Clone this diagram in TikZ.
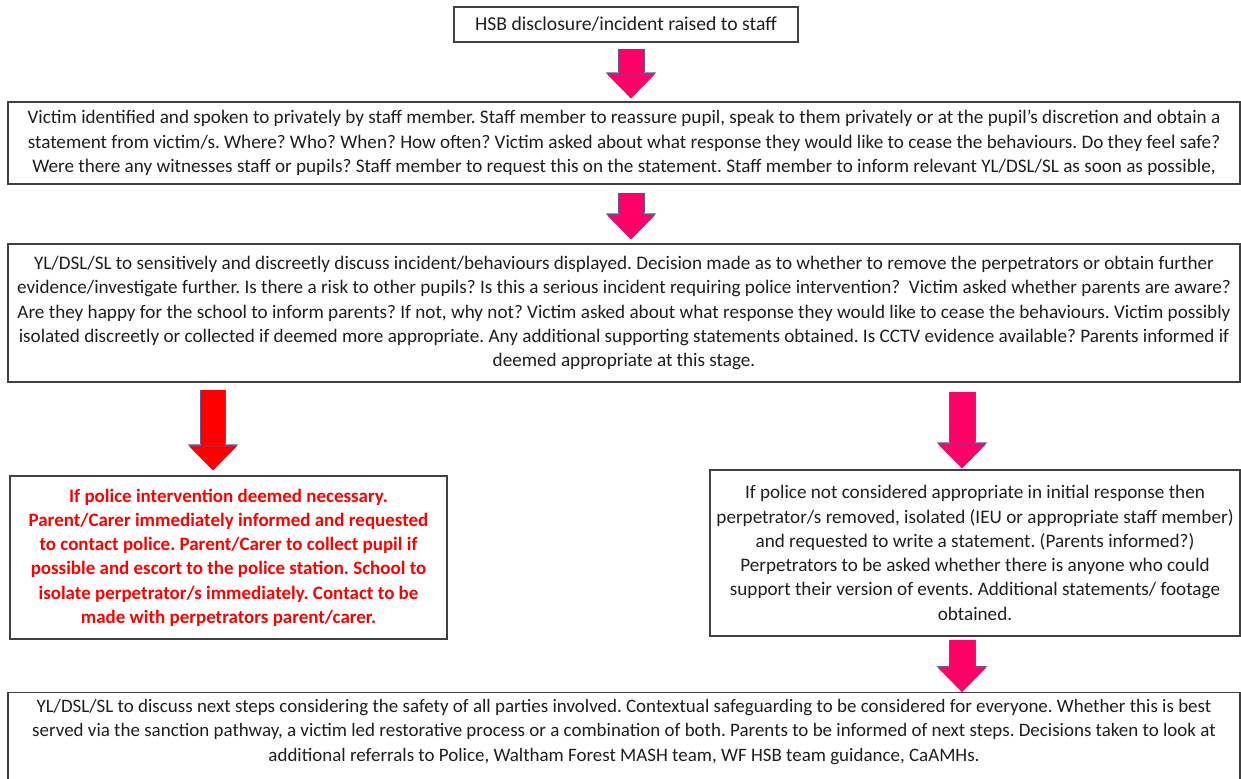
\documentclass[tikz,border=0pt]{standalone}
\usepackage{fontspec}
\setmainfont{Carlito}
\usetikzlibrary{arrows.meta,positioning,calc}
\frenchspacing

\definecolor{boxline}{RGB}{64,64,64}
\definecolor{textgray}{RGB}{30,30,30}
\definecolor{hotpink}{RGB}{255,0,102}
\definecolor{alertred}{RGB}{255,0,0}
\definecolor{tipline}{RGB}{85,90,160}

\begin{document}
\begin{tikzpicture}[
    x=0.02cm, y=-0.02cm,
    box/.style={rectangle, draw=boxline, line width=0.8pt, align=center, text=textgray,
        inner sep=0pt, font=\fontsize{10.9}{13.8}\selectfont},
    alertbox/.style={box, text=alertred, font=\bfseries\fontsize{10.8}{13.8}\selectfont},
    bigarrow/.style={line width=0.5cm, draw=#1,
        -{Triangle[width=0.95cm,length=0.48cm,line width=0pt]},
        preaction={draw=tipline, line width=0.54cm,
            -{Triangle[width=1.01cm,length=0.52cm,line width=0pt]}}},
    bigarrow/.default=hotpink
]
    \clip (0,0) rectangle (1241,778);

    % Arrow columns
    \coordinate (spine) at (631,0);
    \coordinate (leftarm) at (213,0);
    \coordinate (rightarm) at (962,0);

    % Disclosure
    \node[box, font=\fontsize{11.2}{13.8}\selectfont, minimum width=6.88cm, minimum height=0.7cm] (raised) at (626,24.5)
        {HSB disclosure/incident raised to staff};

    % Victim spoken to
    \node[box, minimum width=24.64cm, minimum height=1.64cm] (victim) at (624,143)
        {Victim identified and spoken to privately by staff member. Staff member to reassure pupil, speak to them privately or at the pupil’s discretion and obtain a\\
         statement from victim/s. Where? Who? When? How often? Victim asked about what response they would like to cease the behaviours. Do they feel safe?\\
         Were there any witnesses staff or pupils? Staff member to request this on the statement. Staff member to inform relevant YL/DSL/SL as soon as possible,};

    % YL/DSL/SL discussion
    \node[box, minimum width=24.64cm, minimum height=2.76cm] (discuss) at (624,313)
        {YL/DSL/SL to sensitively and discreetly discuss incident/behaviours displayed. Decision made as to whether to remove the perpetrators or obtain further\\
         evidence/investigate further. Is there a risk to other pupils? Is this a serious incident requiring police intervention?\ \ Victim asked whether parents are aware?\\
         Are they happy for the school to inform parents? If not, why not? Victim asked about what response they would like to cease the behaviours. Victim possibly\\
         isolated discreetly or collected if deemed more appropriate. Any additional supporting statements obtained. Is CCTV evidence available? Parents informed if\\
         deemed appropriate at this stage.};

    % Police route
    \node[alertbox, minimum width=8.74cm, minimum height=3.26cm] (police) at (228.5,557.5)
        {If police intervention deemed necessary.\\
         Parent/Carer immediately informed and requested\\
         to contact police. Parent/Carer to collect pupil if\\
         possible and escort to the police station. School to\\
         isolate perpetrator/s immediately. Contact to be\\
         made with perpetrators parent/carer.};

    % School route
    \node[box, minimum width=10.6cm, minimum height=3.32cm] (removed) at (975,553)
        {If police not considered appropriate in initial response then\\
         perpetrator/s removed, isolated (IEU or appropriate staff member)\\
         and requested to write a statement. (Parents informed?)\\
         Perpetrators to be asked whether there is anyone who could\\
         support their version of events. Additional statements/ footage\\
         obtained.};

    % Next steps
    \node[box, font=\fontsize{10.8}{14.2}\selectfont, anchor=north, minimum width=24.64cm, inner ysep=3.5pt] (nextsteps) at (624,692)
        {\parbox[t][2.2cm][t]{24.4cm}{\centering
         YL/DSL/SL to discuss next steps considering the safety of all parties involved. Contextual safeguarding to be considered for everyone. Whether this is best\\
         served via the sanction pathway, a victim led restorative process or a combination of both. Parents to be informed of next steps. Decisions taken to look at\\
         additional referrals to Police, Waltham Forest MASH team, WF HSB team guidance, CaAMHs.}};

    % Arrows
    \draw[bigarrow] ($(raised.south -| spine)+(0,6)$) -- ($(victim.north -| spine)+(0,-3)$);
    \draw[bigarrow] ($(victim.south -| spine)+(0,8)$) -- ($(discuss.north -| spine)+(0,-4)$);
    \draw[bigarrow=alertred] ($(discuss.south -| leftarm)+(0,7)$) -- ($(police.north -| leftarm)+(0,-5)$);
    \draw[bigarrow] ($(discuss.south -| rightarm)+(0,9)$) -- ($(removed.north -| rightarm)+(0,-1)$);
    \draw[bigarrow] ($(removed.south -| rightarm)+(0,3)$) -- (nextsteps.north -| rightarm);
\end{tikzpicture}
\end{document}
